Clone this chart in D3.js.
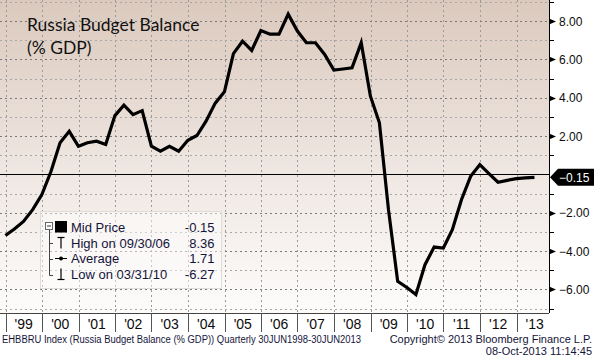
<!DOCTYPE html>
<html><head><meta charset="utf-8">
<script src="https://cdn.jsdelivr.net/npm/d3@7/dist/d3.min.js"></script>
<style>body{margin:0;background:#fff;}svg{display:block;}</style>
</head><body><svg id="c" width="594" height="359"></svg>
<script>
const dates = ["1998-12-31","1999-03-31","1999-06-30","1999-09-30","1999-12-31",
"2000-03-31","2000-06-30","2000-09-30","2000-12-31","2001-03-31","2001-06-30","2001-09-30","2001-12-31",
"2002-03-31","2002-06-30","2002-09-30","2002-12-31","2003-03-31","2003-06-30","2003-09-30","2003-12-31",
"2004-03-31","2004-06-30","2004-09-30","2004-12-31","2005-03-31","2005-06-30","2005-09-30","2005-12-31",
"2006-03-31","2006-06-30","2006-09-30","2006-12-31","2007-03-31","2007-06-30","2007-09-30","2007-12-31",
"2008-03-31","2008-06-30","2008-09-30","2008-12-31","2009-03-31","2009-06-30","2009-09-30","2009-12-31",
"2010-03-31","2010-06-30","2010-09-30","2010-12-31","2011-03-31","2011-06-30","2011-09-30","2011-12-31",
"2012-03-31","2012-06-30","2012-09-30","2012-12-31","2013-03-31","2013-06-30"];
const values = [-3.19,-2.85,-2.45,-1.84,-1.05,
0.15,1.65,2.25,1.47,1.65,1.73,1.56,3.07,
3.61,3.12,3.33,1.47,1.21,1.47,1.21,1.78,
2.03,2.78,3.72,4.31,6.30,6.95,6.47,7.51,
7.32,7.32,8.36,7.48,6.87,6.87,6.26,5.44,
5.50,5.56,6.87,4.08,2.69,-1.85,-5.58,-5.90,
-6.27,-4.71,-3.79,-3.84,-2.88,-1.32,-0.10,0.51,
0.04,-0.41,-0.31,-0.22,-0.18,-0.15];
const yearLabels = ["'99","'00","'01","'02","'03","'04","'05","'06","'07","'08","'09","'10","'11","'12","'13"];
const yTicks = [8,6,4,2,-2,-4,-6];
const yMinor = [9,7,5,3,1,-1,-3,-5,-7];
const titleLines = ["Russia Budget Balance","(% GDP)"];
const legendLabels = ["Mid Price","High on 09/30/06","Average","Low on 03/31/10"];
const legendValues = ["-0.15","8.36","1.71","-6.27"];
const lastValue = -0.15;
const footerLeft = "EHBBRU Index (Russia Budget Balance (% GDP))  Quarterly 30JUN1998-30JUN2013";
const footerRight = ["Copyright\u00A9 2013 Bloomberg Finance L.P.","08-Oct-2013 11:14:45"];

const svg = d3.select("#c");
const W = 549, H = 313;
const FONT = "Liberation Sans, Arial, sans-serif";
const parse = d3.timeParse("%Y-%m-%d");
const data = dates.map((d,i)=>({d:parse(d), v:values[i]}));
const x = d3.scaleTime().domain([new Date(1999,0,1), new Date(2013,0,1)]).range([5.5,516.5]);
const y = d3.scaleLinear().domain([-7.23, 9.1]).range([H, 0]);

const defs = svg.append("defs");
const g = defs.append("linearGradient").attr("id","bg").attr("x1",0).attr("y1",0).attr("x2",0).attr("y2",1);
g.append("stop").attr("offset","0%").attr("stop-color","#dbc9bd");
g.append("stop").attr("offset","55%").attr("stop-color","#efe7e2");
g.append("stop").attr("offset","100%").attr("stop-color","#fdfcfb");
svg.append("rect").attr("x",0).attr("y",0).attr("width",W).attr("height",H).attr("fill","url(#bg)");

// grid
const years = d3.range(1999, 2014).map(yr=>new Date(yr,0,1));
svg.append("g").selectAll("line").data(years).join("line")
  .attr("x1",d=>Math.round(x(d))+0.5).attr("x2",d=>Math.round(x(d))+0.5).attr("y1",0).attr("y2",H)
  .attr("stroke","#9a9a9a").attr("stroke-dasharray","2,3");
svg.append("g").selectAll("line").data(yTicks).join("line")
  .attr("x1",0).attr("x2",W).attr("y1",d=>Math.round(y(d))+0.5).attr("y2",d=>Math.round(y(d))+0.5)
  .attr("stroke","#7a7a7a").attr("stroke-dasharray","2,3");
svg.append("g").selectAll("line").data(yMinor).join("line")
  .attr("x1",0).attr("x2",W).attr("y1",d=>Math.round(y(d))+0.5).attr("y2",d=>Math.round(y(d))+0.5)
  .attr("stroke","#a8a8a8").attr("stroke-dasharray","2,3");

// zero line
svg.append("line").attr("x1",0).attr("x2",W).attr("y1",Math.round(y(0))+0.5).attr("y2",Math.round(y(0))+0.5)
  .attr("stroke","#000").attr("stroke-width",1);

// series line
const line = d3.line().x(d=>x(d.d)).y(d=>y(d.v));
svg.append("path").datum(data).attr("d",line).attr("fill","none").attr("stroke","#000")
  .attr("stroke-width",3.2).attr("stroke-linejoin","miter");

// right axis
svg.append("line").attr("x1",W+0.5).attr("x2",W+0.5).attr("y1",0).attr("y2",H).attr("stroke","#000");
const ax = svg.append("g").attr("transform",`translate(${W},0)`);
ax.selectAll("path.maj").data(yTicks).join("path").attr("class","maj")
  .attr("d",d=>{const yy=Math.round(y(d))+0.5;return `M0,${yy-3}L7,${yy}L0,${yy+3}Z`;}).attr("fill","#000");
ax.selectAll("line.min").data(yMinor).join("line").attr("class","min")
  .attr("x1",0).attr("x2",5).attr("y1",d=>Math.round(y(d))+0.5).attr("y2",d=>Math.round(y(d))+0.5).attr("stroke","#000");
ax.selectAll("text").data(yTicks).join("text")
  .attr("x",10).attr("y",d=>y(d)+4.5).text(d=>d3.format(".2f")(d))
  .attr("font-family",FONT).attr("font-size",12).attr("fill","#0c0c0c");

// last value tag
const ly = y(lastValue);
svg.append("path").attr("d",`M${W+1},${ly}L${W+9},${ly-8.5}L594,${ly-8.5}L594,${ly+8.5}L${W+9},${ly+8.5}Z`).attr("fill","#000");
svg.append("text").attr("x",W+10).attr("y",ly+4.5).text(d3.format(".2f")(lastValue))
  .attr("font-family",FONT).attr("font-size",12).attr("fill","#fff");

// bottom axis
svg.append("line").attr("x1",0).attr("x2",W).attr("y1",H+0.5).attr("y2",H+0.5).attr("stroke","#444");
svg.append("g").selectAll("line").data(years).join("line")
  .attr("x1",d=>Math.round(x(d))+0.5).attr("x2",d=>Math.round(x(d))+0.5).attr("y1",H).attr("y2",332)
  .attr("stroke","#555");
svg.append("g").selectAll("text").data(yearLabels).join("text")
  .attr("x",(d,i)=>(x(years[i])+x(new Date(2000+i,0,1)))/2).attr("y",328.5).attr("text-anchor","middle")
  .text(d=>d).attr("font-family",FONT).attr("font-size",14).attr("fill","#0c0c0c");

// title
svg.append("g").selectAll("text").data(titleLines).join("text")
  .attr("x",27).attr("y",(d,i)=>31+i*22.5).text(d=>d)
  .attr("font-family","Lato, sans-serif").attr("font-size",17.5).attr("fill","#111");

// legend
const lg = svg.append("g");
lg.append("rect").attr("x",40.5).attr("y",211.5).attr("width",181).attr("height",77)
  .attr("fill","#ffffff").attr("fill-opacity",0.45).attr("stroke","#e2dcd8");
const rowY = [226.8,242.7,258.6,274.5];
lg.append("rect").attr("x",45.5).attr("y",222.5).attr("width",7).attr("height",7).attr("fill","#fff").attr("stroke","#666");
lg.append("line").attr("x1",47).attr("x2",51).attr("y1",226).attr("y2",226).attr("stroke","#333");
lg.append("line").attr("x1",49.5).attr("x2",49.5).attr("y1",230).attr("y2",rowY[3]+1).attr("stroke","#444");
rowY.slice(1).forEach(r=>lg.append("line").attr("x1",49.5).attr("x2",53).attr("y1",Math.round(r)+0.5).attr("y2",Math.round(r)+0.5).attr("stroke","#444"));
lg.append("rect").attr("x",55).attr("y",221).attr("width",12).attr("height",11.5).attr("fill","#000");
// high
lg.append("line").attr("x1",57.5).attr("x2",64.5).attr("y1",237.5).attr("y2",237.5).attr("stroke","#000").attr("stroke-width",1.2);
lg.append("line").attr("x1",61).attr("x2",61).attr("y1",237.5).attr("y2",248.5).attr("stroke","#000").attr("stroke-width",1.2);
// average
lg.append("line").attr("x1",55).attr("x2",67).attr("y1",258.5).attr("y2",258.5).attr("stroke","#000");
lg.append("circle").attr("cx",61).attr("cy",258.5).attr("r",2).attr("fill","#000");
// low
lg.append("line").attr("x1",61).attr("x2",61).attr("y1",268.5).attr("y2",279.5).attr("stroke","#000").attr("stroke-width",1.2);
lg.append("line").attr("x1",57.5).attr("x2",64.5).attr("y1",279.5).attr("y2",279.5).attr("stroke","#000").attr("stroke-width",1.2);
lg.selectAll("text.l").data(legendLabels).join("text").attr("class","l")
  .attr("x",71).attr("y",(d,i)=>rowY[i]+4.8).text(d=>d)
  .attr("font-family",FONT).attr("font-size",13).attr("fill","#14143a");
lg.selectAll("text.v").data(legendValues).join("text").attr("class","v")
  .attr("x",214.5).attr("y",(d,i)=>rowY[i]+4.8).attr("text-anchor","end").text(d=>d)
  .attr("font-family",FONT).attr("font-size",13).attr("fill","#14143a");

// footer
svg.append("text").attr("x",2).attr("y",342.5).text(footerLeft).attr("textLength",359).attr("lengthAdjust","spacingAndGlyphs")
  .attr("font-family",FONT).attr("font-size",10).attr("fill","#14143a");
svg.append("g").selectAll("text").data(footerRight).join("text")
  .attr("x",592).attr("y",(d,i)=>342.5+i*12.3).attr("text-anchor","end").text(d=>d)
  .attr("font-family",FONT).attr("font-size",11).attr("fill","#14143a");
</script></body></html>
